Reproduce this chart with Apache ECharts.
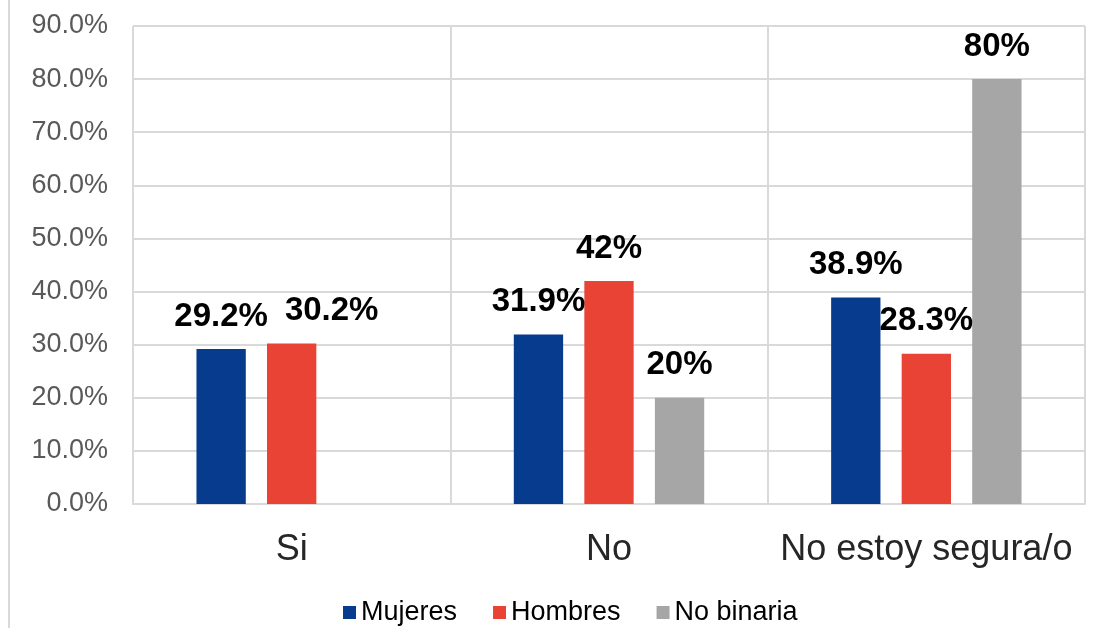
<!DOCTYPE html>
<html>
<head>
<meta charset="utf-8">
<script src="https://cdn.jsdelivr.net/npm/echarts@6/dist/echarts.min.js"></script>
<style>
    html, body { margin: 0; padding: 0; background: #fff; }
    #main { width: 1103px; height: 628px; position: relative; }
    .edge { position: absolute; left: 8px; top: 0; width: 2px; height: 628px; background: #d9d9d9; }
</style>
</head>
<body>
<div id="main"></div>
<div class="edge"></div>
<script>
    // datos
    const categories = ['Si', 'No', 'No estoy segura/o'];
    const mujeres = [29.2, 31.9, 38.9];
    const hombres = [30.2, 42, 28.3];
    const noBinaria = [null, 20, 80];
    const yTicks = [0, 10, 20, 30, 40, 50, 60, 70, 80, 90];

    const font = 'Liberation Sans, Arial, sans-serif';

    // la etiqueta de 30.2% esta corrida a la derecha en la imagen
    function labelShift(series, idx) {
        if (series === 'h' && idx === 0) return [40, 0];
        return [0, 0];
    }

    function makeData(values, key) {
        return values.map(function (v, i) {
            return {value: v, label: {offset: labelShift(key, i)}};
        });
    }

    const barLabel = {
        show: true,
        position: 'top',
        distance: 16,
        color: '#000',
        fontSize: 33,
        fontWeight: 'bold',
        fontFamily: font,
        formatter: function (p) {
            return p.value + '%';
        }
    };

    let myChart = echarts.init(document.getElementById('main'), null, {renderer: 'canvas'});
    myChart.setOption({
        animation: false,
        grid: {left: 133, right: 18, top: 26, bottom: 124},
        legend: {
            left: 338,
            top: 594,
            itemWidth: 13,
            itemHeight: 13,
            itemGap: 36,
            icon: 'rect',
            textStyle: {fontSize: 27, color: '#000', fontFamily: font}
        },
        xAxis: {
            type: 'category',
            data: categories,
            axisLine: {show: true, lineStyle: {color: '#d9d9d9', width: 2}},
            axisTick: {show: false, interval: 0},
            splitLine: {show: true, interval: 0, lineStyle: {color: '#d9d9d9', width: 2}},
            axisLabel: {interval: 0, fontSize: 36, color: '#262626', margin: 28, fontFamily: font}
        },
        yAxis: {
            type: 'value',
            min: yTicks[0],
            max: yTicks[yTicks.length - 1],
            interval: 10,
            axisLine: {show: false},
            axisTick: {show: false},
            splitLine: {lineStyle: {color: '#d9d9d9', width: 2}},
            axisLabel: {
                fontSize: 27,
                color: '#595959',
                margin: 25,
                fontFamily: font,
                formatter: function (v) {
                    return v.toFixed(1) + '%';
                }
            }
        },
        series: [
            {
                name: 'Mujeres', type: 'bar', data: makeData(mujeres, 'm'),
                barGap: '43%', barCategoryGap: '40%',
                itemStyle: {color: '#073b8e'}, label: barLabel
            },
            {
                name: 'Hombres', type: 'bar', data: makeData(hombres, 'h'),
                itemStyle: {color: '#e94335'}, label: barLabel
            },
            {
                name: 'No binaria', type: 'bar', data: makeData(noBinaria, 'n'),
                itemStyle: {color: '#a6a6a6'}, label: barLabel
            }
        ]
    });
</script>
</body>
</html>
